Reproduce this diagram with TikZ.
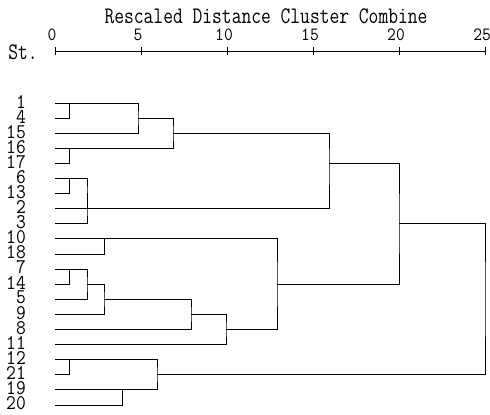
\documentclass[tikz,border=0pt]{standalone}
\usepackage{fontspec}
\usepackage{graphicx}
\newcommand{\tallt}[1]{\scalebox{1}[1.25]{#1}}
\newcommand{\leaft}[1]{\scalebox{1}[1.1]{#1}}
\begin{document}
\begin{tikzpicture}[x=1pt,y=-1pt,
  lab/.style={font=\ttfamily\fontsize{19}{19}\selectfont, inner sep=0pt},
  ticklab/.style={font=\ttfamily\fontsize{17}{17}\selectfont, inner sep=0pt},
  leaflab/.style={lab, anchor=east},
  link/.style={line width=0.9pt, line cap=rect},
  axisline/.style={line width=0.9pt}]
\useasboundingbox (0,0) rectangle (490,415);
% title and axis
\node[lab] (title) at (266,16) {\tallt{Rescaled Distance Cluster Combine}};
\node[lab] (st) at (23,52) {\tallt{St.}};
\foreach \v in {0,5,10,15,20,25}{
  \coordinate (ax\v) at ({55+17.2*\v},51);
  \node[ticklab] (tl\v) at ({52+17.2*\v},35) {\leaft{\v}};
  \draw[axisline] ([yshift=-4pt]ax\v) -- ([yshift=4pt]ax\v);
}
\draw[axisline] (ax0) -- (ax25);
% leaves
\foreach \lbl [count=\i from 0] in {1,4,15,16,17,6,13,2,3,10,18,7,14,5,9,8,11,12,21,19,20}{
  \node[leaflab] (n\lbl) at (26,{102+15.05*\i}) {\leaft{\lbl}};
  \coordinate (L\lbl) at (55,{103+15.1*\i});
}
\newcommand{\rowy}[1]{{103+15.1*#1}}
% join points (x, output row)
\coordinate (ja) at (69,\rowy{0});
\coordinate (jb) at (138,\rowy{1});
\coordinate (jc) at (69,\rowy{3});
\coordinate (jd) at (173,\rowy{2});
\coordinate (je) at (69,\rowy{5});
\coordinate (jf) at (87,\rowy{6});
\coordinate (jg) at (87,\rowy{7});
\coordinate (jh) at (329,\rowy{4});
\coordinate (ji) at (104,\rowy{9});
\coordinate (jj) at (69,\rowy{11});
\coordinate (jk) at (87,\rowy{12});
\coordinate (jl) at (104,\rowy{13});
\coordinate (jm) at (191,\rowy{14});
\coordinate (jn) at (226,\rowy{15});
\coordinate (jo) at (277,\rowy{12});
\coordinate (jp) at (399,\rowy{8});
\coordinate (jq) at (69,\rowy{17});
\coordinate (jr) at (122,\rowy{19});
\coordinate (js) at (157,\rowy{18});
\coordinate (jt) at (485,\rowy{13});
% links
\draw[link] (L1) -| (ja) |- (L4);
\draw[link] (ja) -| (jb) |- (L15);
\draw[link] (L16) -| (jc) |- (L17);
\draw[link] (jb) -| (jd) |- (jc);
\draw[link] (L6) -| (je) |- (L13);
\draw[link] (je) -| (jf) |- (L2);
\draw[link] (jf) -| (jg) |- (L3);
\draw[link] (jd) -| (jh) |- (jg);
\draw[link] (L10) -| (ji) |- (L18);
\draw[link] (L7) -| (jj) |- (L14);
\draw[link] (jj) -| (jk) |- (L5);
\draw[link] (jk) -| (jl) |- (L9);
\draw[link] (jl) -| (jm) |- (L8);
\draw[link] (jm) -| (jn) |- (L11);
\draw[link] (ji) -| (jo) |- (jn);
\draw[link] (jh) -| (jp) |- (jo);
\draw[link] (L12) -| (jq) |- (L21);
\draw[link] (L19) -| (jr) |- (L20);
\draw[link] (jq) -| (js) |- (jr);
\draw[link] (jp) -| (jt) |- (js);
\end{tikzpicture}
\end{document}
